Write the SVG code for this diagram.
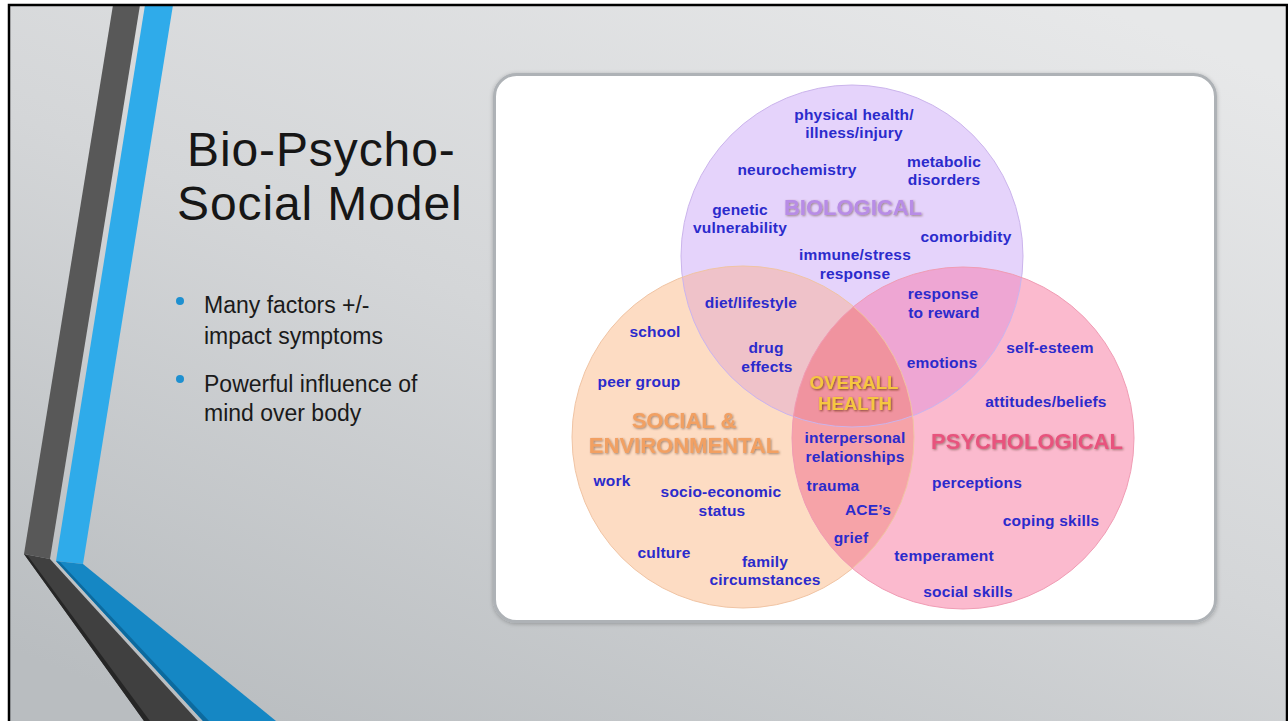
<svg xmlns="http://www.w3.org/2000/svg" width="1288" height="721" viewBox="0 0 1288 721">
  <defs>
    <linearGradient id="slideBg" x1="0.85" y1="0" x2="0.15" y2="1">
      <stop offset="0" stop-color="#e7e8e9"/>
      <stop offset="0.5" stop-color="#d4d6d8"/>
      <stop offset="1" stop-color="#b9bdc0"/>
    </linearGradient>
    <filter id="panelShadow" x="-5%" y="-5%" width="110%" height="110%">
      <feGaussianBlur in="SourceAlpha" stdDeviation="2"/>
      <feOffset dx="0" dy="1" result="b"/>
      <feFlood flood-color="#000" flood-opacity="0.25"/>
      <feComposite in2="b" operator="in"/>
      <feMerge><feMergeNode/><feMergeNode in="SourceGraphic"/></feMerge>
    </filter>
    <filter id="catShadow" x="-10%" y="-30%" width="120%" height="160%">
      <feGaussianBlur in="SourceAlpha" stdDeviation="0.8"/>
      <feOffset dx="1" dy="1.2" result="b"/>
      <feFlood flood-color="#5a3a2a" flood-opacity="0.55"/>
      <feComposite in2="b" operator="in"/>
      <feMerge><feMergeNode/><feMergeNode in="SourceGraphic"/></feMerge>
    </filter>
    <filter id="goldShadow" x="-10%" y="-30%" width="120%" height="160%">
      <feGaussianBlur in="SourceAlpha" stdDeviation="0.8"/>
      <feOffset dx="1" dy="1.2" result="b"/>
      <feFlood flood-color="#6a2a10" flood-opacity="0.8"/>
      <feComposite in2="b" operator="in"/>
      <feMerge><feMergeNode/><feMergeNode in="SourceGraphic"/></feMerge>
    </filter>
    <clipPath id="clipBio"><circle cx="852" cy="256" r="171"/></clipPath>
    <clipPath id="clipSoc"><circle cx="743" cy="437" r="171"/></clipPath>
  </defs>
  <style>
    .title { font-family: "Liberation Sans", Arial, sans-serif; font-size: 48px; letter-spacing: 0.9px; fill: #161616; }
    .bullet { font-family: "Liberation Sans", Arial, sans-serif; font-size: 23px; fill: #1a1a1a; }
    .dot { fill: #1e90d0; }
    .lbl { font-family: "Liberation Sans", Arial, sans-serif; font-weight: 700; font-size: 15.5px; letter-spacing: 0.2px; fill: #2b2bcc; text-anchor: middle; }
    .cat { font-family: "Liberation Sans", Arial, sans-serif; font-weight: 700; font-size: 22px; text-anchor: middle; }
    .gold { font-size: 18.6px; fill: #f6c640; }
  </style>

  <!-- slide background and frame -->
  <rect x="0" y="0" width="1288" height="721" fill="#ffffff"/>
  <rect x="9" y="5" width="1278" height="720" fill="url(#slideBg)"/>

  <!-- decorative bent stripes on the left -->
  <g id="stripes">
    <polygon points="113,5 140,5 50,559 24,554" fill="#585858"/>
    <polygon points="145,5 173,5 83,564 56,561" fill="#2fabea"/>
    <polygon points="24,554 50,559 198,721 144,721" fill="#404040"/>
    <polygon points="24,554 28,556 150,721 144,721" fill="#262626"/>
    <polygon points="56,561 83,564 276,721 203,721" fill="#1587c4"/>
    <polygon points="56,561 60,562 209,721 203,721" fill="#0c6a9e"/>
  </g>

  <rect x="9" y="5" width="1278" height="720" fill="none" stroke="#000" stroke-width="2.5"/>

  <!-- title and bullet points -->
  <g id="title">
    <text class="title" x="187" y="166">Bio-Psycho-</text>
    <text class="title" x="177" y="220">Social Model</text>
  </g>
  <g id="bullets">
    <circle class="dot" cx="180" cy="301" r="4"/>
    <text class="bullet" x="204" y="313">Many factors +/-</text>
    <text class="bullet" x="204" y="344">impact symptoms</text>
    <circle class="dot" cx="180" cy="379" r="4"/>
    <text class="bullet" x="204" y="392">Powerful influence of</text>
    <text class="bullet" x="204" y="421">mind over body</text>
  </g>

  <!-- white rounded panel holding the Venn diagram -->
  <rect id="panel" x="494.5" y="74.5" width="721" height="547" rx="22" fill="#ffffff" stroke="#aeb2b6" stroke-width="3" filter="url(#panelShadow)"/>

  <!-- Venn circles -->
  <g id="venn">
    <circle cx="743" cy="437" r="171" fill="#fddcc3"/>
    <circle cx="963" cy="438" r="171" fill="#fbbace"/>
    <circle cx="852" cy="256" r="171" fill="#e5d3fb"/>
    <circle cx="743" cy="437" r="171" fill="#efc2c9" clip-path="url(#clipBio)"/>
    <circle cx="963" cy="438" r="171" fill="#eea6d3" clip-path="url(#clipBio)"/>
    <circle cx="963" cy="438" r="171" fill="#f6a3a8" clip-path="url(#clipSoc)"/>
    <g clip-path="url(#clipBio)">
      <circle cx="963" cy="438" r="171" fill="#f0939f" clip-path="url(#clipSoc)"/>
    </g>
    <circle cx="852" cy="256" r="171" fill="none" stroke="#cbb4ec" stroke-width="1"/>
    <circle cx="743" cy="437" r="171" fill="none" stroke="#f0c4a4" stroke-width="1"/>
    <circle cx="963" cy="438" r="171" fill="none" stroke="#f09cb4" stroke-width="1"/>
  </g>

  <!-- Biological -->
  <g id="biological">
    <text class="cat" x="853" y="215" fill="#b88ce6" filter="url(#catShadow)">BIOLOGICAL</text>
    <text class="lbl" x="854" y="120">physical health/</text>
    <text class="lbl" x="854" y="138">illness/injury</text>
    <text class="lbl" x="797" y="175">neurochemistry</text>
    <text class="lbl" x="944" y="167">metabolic</text>
    <text class="lbl" x="944" y="185">disorders</text>
    <text class="lbl" x="740" y="215">genetic</text>
    <text class="lbl" x="740" y="233">vulnerability</text>
    <text class="lbl" x="966" y="242">comorbidity</text>
    <text class="lbl" x="855" y="260">immune/stress</text>
    <text class="lbl" x="855" y="279">response</text>
  </g>

  <!-- Social & environmental -->
  <g id="social">
    <text class="cat" x="684" y="428" fill="#f2a062" filter="url(#catShadow)">SOCIAL &amp;</text>
    <text class="cat" x="684" y="453" fill="#f2a062" filter="url(#catShadow)">ENVIRONMENTAL</text>
    <text class="lbl" x="655" y="337">school</text>
    <text class="lbl" x="639" y="387">peer group</text>
    <text class="lbl" x="612" y="486">work</text>
    <text class="lbl" x="721" y="497">socio-economic</text>
    <text class="lbl" x="722" y="516">status</text>
    <text class="lbl" x="664" y="558">culture</text>
    <text class="lbl" x="765" y="567">family</text>
    <text class="lbl" x="765" y="585">circumstances</text>
  </g>

  <!-- Psychological -->
  <g id="psychological">
    <text class="cat" x="1027" y="449" font-size="20.8" fill="#e8537d" filter="url(#catShadow)">PSYCHOLOGICAL</text>
    <text class="lbl" x="1050" y="353">self-esteem</text>
    <text class="lbl" x="1046" y="407">attitudes/beliefs</text>
    <text class="lbl" x="977" y="488">perceptions</text>
    <text class="lbl" x="1051" y="526">coping skills</text>
    <text class="lbl" x="944" y="561">temperament</text>
    <text class="lbl" x="968" y="597">social skills</text>
  </g>

  <!-- Overlap regions -->
  <g id="bio-social">
    <text class="lbl" x="751" y="308">diet/lifestyle</text>
    <text class="lbl" x="766" y="353">drug</text>
    <text class="lbl" x="767" y="371.5">effects</text>
  </g>
  <g id="bio-psych">
    <text class="lbl" x="943" y="299">response</text>
    <text class="lbl" x="944" y="318">to reward</text>
    <text class="lbl" x="942" y="368">emotions</text>
  </g>
  <g id="social-psych">
    <text class="lbl" x="855" y="443">interpersonal</text>
    <text class="lbl" x="855" y="462">relationships</text>
    <text class="lbl" x="833" y="491">trauma</text>
    <text class="lbl" x="868" y="515">ACE’s</text>
    <text class="lbl" x="851" y="543">grief</text>
  </g>
  <g id="overall-health">
    <text class="cat gold" x="854" y="389" filter="url(#goldShadow)">OVERALL</text>
    <text class="cat gold" x="855" y="410" filter="url(#goldShadow)">HEALTH</text>
  </g>
</svg>
